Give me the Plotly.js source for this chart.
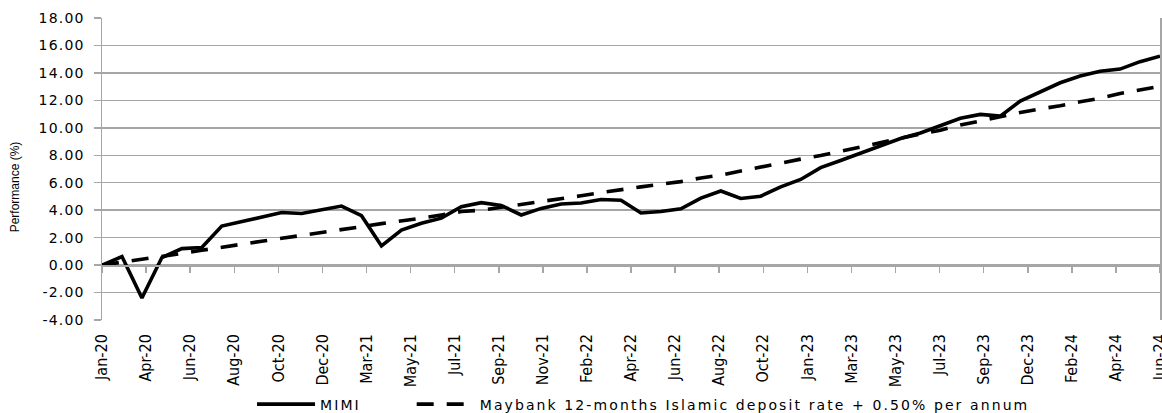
<!DOCTYPE html>
<html>
<head>
<meta charset="utf-8">
<script src="https://cdn.plot.ly/plotly-3.0.1.min.js"></script>
<style>
  html, body { margin: 0; padding: 0; background: #fff; }
  #chart { width: 1162px; height: 413px; }
  .ytick text { letter-spacing: 1.2px; }
  .legendtext { letter-spacing: 2.1px; }
</style>
</head>
<body>
<div id="chart"></div>
<script>
const months = [
  'Jan-20','Feb-20','Mar-20','Apr-20','May-20','Jun-20','Jul-20','Aug-20','Sep-20','Oct-20','Nov-20','Dec-20',
  'Jan-21','Feb-21','Mar-21','Apr-21','May-21','Jun-21','Jul-21','Aug-21','Sep-21','Oct-21','Nov-21','Dec-21',
  'Jan-22','Feb-22','Mar-22','Apr-22','May-22','Jun-22','Jul-22','Aug-22','Sep-22','Oct-22','Nov-22','Dec-22',
  'Jan-23','Feb-23','Mar-23','Apr-23','May-23','Jun-23','Jul-23','Aug-23','Sep-23','Oct-23','Nov-23','Dec-23',
  'Jan-24','Feb-24','Mar-24','Apr-24','May-24','Jun-24'
];

const mimi = [
  0.00, 0.62, -2.40, 0.55, 1.20, 1.28, 2.84, 3.18, 3.52, 3.83, 3.76, 4.05,
  4.30, 3.60, 1.40, 2.55, 3.05, 3.42, 4.25, 4.55, 4.35, 3.65, 4.13, 4.45,
  4.52, 4.78, 4.73, 3.80, 3.90, 4.10, 4.88, 5.40, 4.85, 5.02, 5.70, 6.24,
  7.10, 7.62, 8.15, 8.70, 9.22, 9.62, 10.18, 10.70, 10.98, 10.85, 11.95, 12.62,
  13.28, 13.77, 14.12, 14.28, 14.82, 15.22
];

const benchmark = [
  0.00, 0.20, 0.42, 0.62, 0.85, 1.08, 1.32, 1.55, 1.74, 1.95, 2.15, 2.36,
  2.60, 2.80, 3.02, 3.20, 3.42, 3.65, 3.90, 4.00, 4.20, 4.45, 4.62, 4.82,
  5.05, 5.28, 5.46, 5.70, 5.90, 6.08, 6.35, 6.55, 6.85, 7.15, 7.45, 7.72,
  7.98, 8.30, 8.62, 8.95, 9.25, 9.55, 9.83, 10.20, 10.50, 10.83, 11.12, 11.38,
  11.60, 11.90, 12.15, 12.50, 12.75, 13.02
];

const tickLabels = [
  'Jan-20','Apr-20','Jun-20','Aug-20','Oct-20','Dec-20','Mar-21','May-21','Jul-21',
  'Sep-21','Nov-21','Feb-22','Apr-22','Jun-22','Aug-22','Oct-22','Jan-23','Mar-23',
  'May-23','Jul-23','Sep-23','Dec-23','Feb-24','Apr-24','Jun-24'
];

const seriesNames = ['MIMI', 'Maybank 12-months Islamic deposit rate + 0.50% per annum'];
const yTitle = 'Performance (%)';

const xIdx = months.map((_, i) => i);
const lastIdx = months.length - 1;
const tickVals = tickLabels.map((_, i) => i * lastIdx / (tickLabels.length - 1));

const yMin = -4, yMax = 18, yStep = 2;
const yTickVals = [];
for (let v = yMin; v <= yMax + 1e-9; v += yStep) yTickVals.push(v);
const yTickText = yTickVals.map(v => v.toFixed(2));

const grid = '#a6a6a6';
const legendPad = '\u00a0'.repeat(7);

const traces = [
  {
    x: xIdx, y: mimi, name: seriesNames[0] + legendPad, type: 'scatter', mode: 'lines',
    text: months, hoverinfo: 'text+y',
    line: { color: '#000', width: 3.6 }
  },
  {
    x: xIdx, y: benchmark, name: seriesNames[1], type: 'scatter', mode: 'lines',
    xaxis: 'x2', text: months, hoverinfo: 'text+y',
    line: { color: '#000', width: 3.6, dash: '17px,13px' }
  }
];

const layout = {
  width: 1162, height: 413,
  margin: { l: 102, r: 2, t: 18, b: 93, autoexpand: false },
  paper_bgcolor: '#fff', plot_bgcolor: '#fff',
  showlegend: true,
  xaxis: {
    automargin: false,
    range: [0, lastIdx + 0.0001],
    tickmode: 'array', tickvals: tickVals, ticktext: tickLabels,
    tickangle: -90, ticks: '', showgrid: false, zeroline: false, showline: false,
    ticklabeloverflow: 'allow', ticklabelstandoff: 10,
    tickfont: { family: 'Liberation Sans Narrow, DejaVu Sans Condensed, sans-serif', size: 16, color: '#000' }
  },
  xaxis2: {
    automargin: false,
    overlaying: 'x', anchor: 'free', position: (0 - yMin) / (yMax - yMin),
    range: [0, lastIdx + 0.0001],
    tickmode: 'array', tickvals: tickVals, showticklabels: false,
    ticks: 'outside', ticklen: 6, tickwidth: 1.5, tickcolor: grid,
    showline: true, linecolor: grid, linewidth: 1.5,
    showgrid: false, zeroline: false
  },
  yaxis: {
    automargin: false,
    range: [yMin, yMax],
    tickmode: 'array', tickvals: yTickVals, ticktext: yTickText,
    showgrid: true, gridcolor: grid, gridwidth: 1.5,
    zeroline: false,
    showline: true, mirror: true, linecolor: grid, linewidth: 1.5,
    ticks: 'outside', ticklen: 7, tickwidth: 1.5, tickcolor: grid,
    ticklabelstandoff: 6,
    tickfont: { family: 'DejaVu Sans, sans-serif', size: 14, color: '#000' }
  },
  annotations: [{
    text: yTitle, textangle: -90, showarrow: false,
    xref: 'paper', yref: 'paper', x: -0.082, y: 0.44, xanchor: 'center', yanchor: 'middle',
    font: { family: 'Liberation Sans, Arial, sans-serif', size: 12, color: '#000' }
  }],
  legend: {
    orientation: 'h', x: 0.1418, xanchor: 'left', y: -0.227, yanchor: 'top',
    font: { family: 'DejaVu Sans, sans-serif', size: 14, color: '#000' },
    itemwidth: 58, bgcolor: 'rgba(0,0,0,0)'
  }
};

Plotly.newPlot('chart', traces, layout, { displayModeBar: false, staticPlot: true });
</script>
</body>
</html>
